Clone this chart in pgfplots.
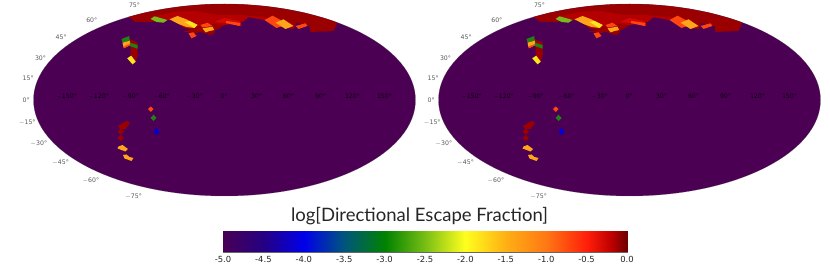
\documentclass[border=0pt]{standalone}
\usepackage{fontspec}
\setmainfont{DejaVu Sans}
\newfontfamily\titlefont{Lato}
\usepackage{pgfplots}
\pgfplotsset{compat=1.18}
\definecolor{bgp}{RGB}{76,0,84}
\definecolor{capd}{RGB}{155,0,0}
\definecolor{capm}{RGB}{180,0,0}
\definecolor{capb}{RGB}{210,10,5}
\definecolor{rorg}{RGB}{255,70,15}
\definecolor{org}{RGB}{255,165,25}
\definecolor{yel}{RGB}{250,230,30}
\definecolor{grn}{RGB}{120,185,30}
\definecolor{dgrn}{RGB}{30,130,20}
\definecolor{lab}{RGB}{10,5,15}
\newcommand{\patch}[2]{\addplot[fill=#1,draw=none,forget plot] coordinates {#2} --cycle;}
\newcommand{\lbl}[3]{\node[font=\fontsize{6.2}{6.5}\selectfont,text=#3] at (axis cs:#1) {#2};}
\newcommand{\mapbody}{%
\fill[bgp] (axis cs:0,100) ellipse [x radius=191, y radius=96];
\draw[black!70,line width=0.3pt,opacity=.6] (axis cs:0,100) ellipse [x radius=191, y radius=96];
% polar cap
\patch{capd}{(-96,17) (-80,12.8) (-60,8.9) (-40,6.1) (-20,4.5) (0,4) (20,4.5) (40,6.1) (60,8.9) (80,12.8) (100,18.2) (112.7,22.5) (109,31) (86,32) (85,26) (72,23) (69,29) (60,28) (40,20) (24,17) (18,22) (0,25) (-6,29) (-12,31) (-12,35) (-40,28) (-50,21) (-60,19) (-72,22) (-89,22)}
\patch{capm}{(-72,17) (-50,12) (-30,11) (-5,15) (15,15) (40,17) (60,27) (40,20) (24,17) (18,22) (0,25) (-10,24) (-40,28) (-50,21) (-60,19)}
\patch{capb}{(-10,22) (0,18) (15,21) (17,26) (0,23)}
\patch{rorg}{(2,21) (16,23) (15,26) (1,23)}
\patch{grn}{(-74,19) (-70,16.3) (-57,20) (-61,22.7) (-68,22)}
\patch{org}{(-55,19.3) (-47,16) (-39,19) (-27,25) (-30,28) (-38,27) (-46,24)}
\patch{yel}{(-40,22) (-35,21) (-27,25) (-30,28)}
\patch{rorg}{(-24,25) (-17,22.7) (-12,26) (-22,27.5)}
\patch{org}{(-22,28.3) (-12,26.7) (-10,30.7) (-19,32.3)}
\patch{capd}{(-17,31.7) (-10,30) (-10,33.3) (-16,35)}
\patch{capd}{(-41,31.7) (-32,29.5) (-22,31.7) (-29,33)}
\patch{rorg}{(-36,33.3) (-31,32.3) (-28,36) (-33,38.3)}
\patch{rorg}{(40,20) (48,15.7) (56,20) (58,26) (52,28)}
\patch{org}{(51,22.7) (59,19.3) (69,26) (61,29)}
\patch{rorg}{(71,26) (81,23.3) (83,26) (74,29)}
% column
\patch{capd}{(-95,39) (-87,42.7) (-87,56.7) (-89.5,62) (-94,62) (-94,46)}
\patch{dgrn}{(-103,39) (-95.3,36) (-94.7,40.7) (-102,42.7)}
\patch{org}{(-102,42.7) (-94.7,40.7) (-94,45) (-100.7,48.3)}
\patch{rorg}{(-100,46) (-94.5,44) (-94,45) (-100.7,48.3)}
\patch{dgrn}{(-94.7,42.7) (-87,45) (-87,48.7) (-94.7,46)}
\patch{yel}{(-97.3,58.3) (-93.3,55.7) (-88.7,61.7) (-92,64.3)}
% isolated low-latitude pixels
\patch{rorg}{(-73.7,106.5) (-71,109) (-73.7,112) (-76.5,109)}
\patch{dgrn}{(-71,114.7) (-68,118) (-71,121) (-74,118)}
\patch{blue!85!black}{(-68,128) (-65,131.7) (-68,135) (-71,131.7)}
\patch{capd}{(-100.5,122.5) (-97.5,121) (-94.5,123) (-99,129) (-104,129.5) (-106.5,126)}
\patch{capd}{(-103.7,128.7) (-100.5,131.7) (-103.7,134.7) (-107,131.7)}
\patch{capd}{(-103.7,135) (-100.5,138) (-103.7,141) (-107,138)}
\patch{org}{(-106,146.5) (-102,145) (-96.5,149) (-99,151.5) (-107,148.5)}
\patch{org}{(-101.5,155) (-98,154.5) (-95,157) (-91,158) (-93,161) (-100,158.5)}
% labels
\lbl{-158,96.7}{$-$150°}{lab}\lbl{-126,96.7}{$-$120°}{lab}\lbl{-94,96.7}{$-$90°}{lab}\lbl{-63,96.7}{$-$60°}{lab}\lbl{-30,96.7}{$-$30°}{lab}\lbl{0,96.7}{0°}{lab}\lbl{32,96.7}{30°}{lab}\lbl{64,96.7}{60°}{lab}\lbl{96,96.7}{90°}{lab}\lbl{128,96.7}{120°}{lab}\lbl{160,96.7}{150°}{lab}
\lbl{-90,5}{75°}{black!65}\lbl{-132.7,20}{60°}{black!65}\lbl{-163.3,37.7}{45°}{black!65}\lbl{-184,58}{30°}{black!65}\lbl{-196.3,78.7}{15°}{black!65}\lbl{-198.3,100.3}{0°}{black!65}\lbl{-197.3,122.3}{$-$15°}{black!65}\lbl{-185.7,143.3}{$-$30°}{black!65}\lbl{-164,163}{$-$45°}{black!65}\lbl{-133.7,181}{$-$60°}{black!65}\lbl{-91,196.3}{$-$75°}{black!65}
}
\pgfplotsset{mapax/.style={at={(0,0)},anchor=south west,scale only axis,width=830pt,height=264pt,ymin=0,ymax=264,y dir=reverse,hide axis,clip=false}}
\begin{document}
\begin{tikzpicture}[x=1pt,y=1pt]
\useasboundingbox (0,0) rectangle (830pt,264pt);
\begin{axis}[mapax,xmin=-224.5,xmax=605.5]
\mapbody
\end{axis}
\begin{axis}[mapax,xmin=-629.5,xmax=200.5]
\mapbody
\end{axis}
\node[font=\titlefont\fontsize{18.5}{19}\selectfont,text=black!85] at (419.5pt,48pt) {log[Directional Escape Fraction]};
\begin{axis}[at={(223pt,12pt)},anchor=south west,scale only axis,width=404pt,height=21pt,
 xmin=-5,xmax=0,ymin=0,ymax=1,ytick=\empty,xtick distance=0.5,
 view={0}{90},
 axis line style={gray!80!black,line width=0.4pt},
 tick align=inside,tick style={black!70,line width=0.3pt},major tick length=2pt,
 tick pos=both,
 xticklabel style={font=\fontsize{8.4}{9}\selectfont,text=black!85,yshift=-0.5pt,/pgf/number format/fixed,/pgf/number format/fixed zerofill,/pgf/number format/precision=1},
 /pgf/number format/assume math mode=true,
 colormap={esc}{rgb255(0cm)=(72,0,85);rgb255(1cm)=(38,0,130);rgb255(2cm)=(0,0,235);rgb255(3cm)=(0,85,125);rgb255(4cm)=(0,130,0);rgb255(5cm)=(120,190,20);rgb255(6cm)=(255,255,30);rgb255(7cm)=(255,175,20);rgb255(8cm)=(255,120,20);rgb255(9cm)=(255,30,10);rgb255(9.6cm)=(190,0,0);rgb255(10cm)=(110,0,0)}]
\addplot[surf,shader=interp,point meta=x,mesh/rows=2] coordinates {
(-5,0) (-4.5,0) (-4,0) (-3.5,0) (-3,0) (-2.5,0) (-2,0) (-1.5,0) (-1,0) (-0.5,0) (-0.2,0) (0,0)
(-5,1) (-4.5,1) (-4,1) (-3.5,1) (-3,1) (-2.5,1) (-2,1) (-1.5,1) (-1,1) (-0.5,1) (-0.2,1) (0,1)};
\end{axis}
\end{tikzpicture}
\end{document}
